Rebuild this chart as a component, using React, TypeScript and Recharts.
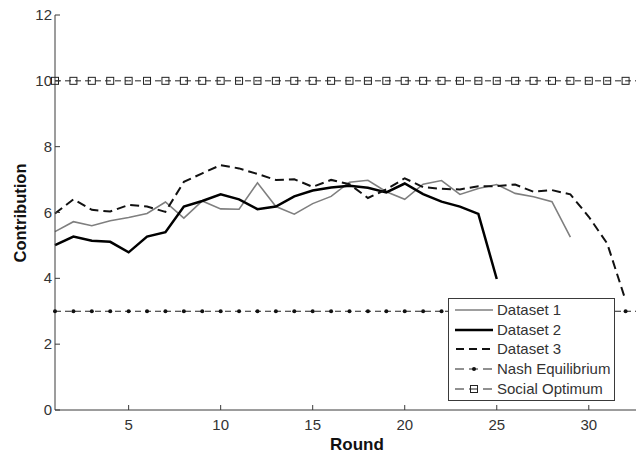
import { LineChart, Line, XAxis, YAxis, Legend } from 'recharts'

// rounds of the game (the axis runs a little past 32, the frame is cut at the window edge)
const rounds = [
  1, 2, 3, 4, 5, 6, 7, 8, 9, 10, 11, 12, 13, 14, 15, 16, 17, 18, 19, 20, 21, 22, 23, 24, 25,
  26, 27, 28, 29, 30, 31, 32, 33,
]

const dataset1 = [
  5.42, 5.72, 5.6, 5.75, 5.85, 5.97, 6.32, 5.83, 6.35, 6.11, 6.1, 6.9, 6.18, 5.95, 6.27, 6.49,
  6.92, 6.98, 6.63, 6.4, 6.86, 6.97, 6.55, 6.73, 6.85, 6.58, 6.48, 6.33, 5.25,
]

const dataset2 = [
  5.01, 5.27, 5.14, 5.11, 4.79, 5.27, 5.4, 6.18, 6.35, 6.55, 6.4, 6.1, 6.18, 6.49, 6.67, 6.76,
  6.81, 6.75, 6.61, 6.88, 6.56, 6.33, 6.18, 5.96, 3.98,
]

const dataset3 = [
  5.97, 6.4, 6.08, 6.03, 6.23, 6.18, 6.02, 6.93, 7.19, 7.44, 7.34, 7.17, 6.99, 7.01, 6.78, 6.99,
  6.86, 6.44, 6.7, 7.04, 6.77, 6.72, 6.7, 6.8, 6.8, 6.85, 6.63, 6.68, 6.55, 5.87, 5.06, 3.33,
]

const nashEquilibrium = 3
const socialOptimum = 10

const xTicks = [5, 10, 15, 20, 25, 30]
const yTicks = [0, 2, 4, 6, 8, 10, 12]

const legendItems = ['Dataset 1', 'Dataset 2', 'Dataset 3', 'Nash Equilibrium', 'Social Optimum']

const data = rounds.map((round, i) => ({
  round,
  d1: dataset1[i] ?? null,
  d2: dataset2[i] ?? null,
  d3: dataset3[i] ?? null,
  nash: nashEquilibrium,
  social: socialOptimum,
}))

const AXIS = '#3a3a3a'
const TEXT = '#333'
const GRAY = '#7f7f7f'
const FONT = '"Liberation Sans", Arial, sans-serif'

function BottomTick({ x, y, payload }: any) {
  return (
    <g>
      <line x1={x} y1={y} x2={x} y2={y - 5} stroke={AXIS} strokeWidth={1} />
      <text x={x} y={y + 20} textAnchor="middle" fontSize={15} fill={TEXT} fontFamily={FONT}>
        {payload.value}
      </text>
    </g>
  )
}

function TopTick({ x, y }: any) {
  return <line x1={x} y1={y} x2={x} y2={y + 5} stroke={AXIS} strokeWidth={1} />
}

function LeftTick({ x, y, payload }: any) {
  return (
    <g>
      <line x1={x} y1={y} x2={x + 5} y2={y} stroke={AXIS} strokeWidth={1} />
      <text x={x - 3} y={y + 5} textAnchor="end" fontSize={15} fill={TEXT} fontFamily={FONT}>
        {payload.value}
      </text>
    </g>
  )
}

function RoundLabel() {
  return (
    <text x={357} y={450} textAnchor="middle" fontSize={17} fontWeight="bold" fill="#111" fontFamily={FONT}>
      Round
    </text>
  )
}

function ContributionLabel() {
  return (
    <text
      x={26}
      y={213}
      transform="rotate(-90, 26, 213)"
      textAnchor="middle"
      fontSize={16.5}
      fontWeight="bold"
      fill="#111"
      fontFamily={FONT}
    >
      Contribution
    </text>
  )
}

function NashDot({ cx, cy, index }: any) {
  return <circle key={`n${index}`} cx={cx} cy={cy} r={2} fill="#111" />
}

function SquareDot({ cx, cy, index }: any) {
  return (
    <rect
      key={`s${index}`}
      x={cx - 3.5}
      y={cy - 3.5}
      width={7}
      height={7}
      fill="none"
      stroke="#222"
      strokeWidth={1}
    />
  )
}

function LegendBox() {
  const rows = [12, 32, 51, 71, 91]
  return (
    <svg width={168} height={104} style={{ display: 'block' }}>
      <rect x={0.5} y={0.5} width={166} height={102} fill="#fff" stroke={AXIS} strokeWidth={1} />
      {/* Dataset 1 */}
      <line x1={7} y1={rows[0]} x2={45} y2={rows[0]} stroke={GRAY} strokeWidth={1.5} />
      {/* Dataset 2 */}
      <line x1={7} y1={rows[1]} x2={45} y2={rows[1]} stroke="#000" strokeWidth={2.5} />
      {/* Dataset 3 */}
      <line x1={8} y1={rows[2]} x2={46} y2={rows[2]} stroke="#111" strokeWidth={2} strokeDasharray="8 5" />
      {/* Nash */}
      <line x1={7} y1={rows[3]} x2={46} y2={rows[3]} stroke="#222" strokeWidth={1} strokeDasharray="9 5" />
      <circle cx={26} cy={rows[3]} r={2} fill="#111" />
      {/* Social */}
      <line x1={7} y1={rows[4]} x2={46} y2={rows[4]} stroke="#222" strokeWidth={1} strokeDasharray="9 5" />
      <rect x={22.5} y={rows[4] - 3.5} width={7} height={7} fill="#fff" stroke="#222" />
      <line x1={22.5} y1={rows[4]} x2={29.5} y2={rows[4]} stroke="#222" strokeWidth={1} />
      {legendItems.map((label, i) => (
        <text key={label} x={49} y={rows[i] + 5} fontSize={15} fill={TEXT} fontFamily={FONT}>
          {label}
        </text>
      ))}
    </svg>
  )
}

export default function App() {
  return (
    <div
      style={{
        position: 'absolute',
        left: 0,
        top: 0,
        width: 636,
        height: 454,
        overflow: 'hidden',
        background: '#fff',
      }}
    >
      <LineChart width={660} height={454} data={data} margin={{ top: 15, right: 16, bottom: 0, left: 0 }}>
        <XAxis
          xAxisId="bottom"
          dataKey="round"
          type="number"
          domain={[1, 33]}
          ticks={xTicks}
          height={44}
          stroke={AXIS}
          tickLine={false}
          tickSize={0}
          tickMargin={0}
          tick={<BottomTick />}
          label={<RoundLabel />}
        />
        <XAxis
          xAxisId="top"
          orientation="top"
          dataKey="round"
          type="number"
          domain={[1, 33]}
          ticks={xTicks}
          height={0}
          stroke={AXIS}
          tickLine={false}
          tickSize={0}
          tickMargin={0}
          tick={<TopTick />}
        />
        <YAxis
          type="number"
          domain={[0, 12]}
          ticks={yTicks}
          width={55}
          stroke={AXIS}
          tickLine={false}
          tickSize={0}
          tickMargin={0}
          tick={<LeftTick />}
          label={<ContributionLabel />}
        />
        <Line
          xAxisId="bottom"
          dataKey="nash"
          stroke="#222"
          strokeWidth={1}
          strokeDasharray="6 4"
          dot={<NashDot />}
          isAnimationActive={false}
        />
        <Line
          xAxisId="bottom"
          dataKey="social"
          stroke="#222"
          strokeWidth={1}
          strokeDasharray="6 4"
          dot={<SquareDot />}
          isAnimationActive={false}
        />
        <Line
          xAxisId="bottom"
          dataKey="d1"
          stroke={GRAY}
          strokeWidth={1.6}
          dot={false}
          isAnimationActive={false}
        />
        <Line
          xAxisId="bottom"
          dataKey="d2"
          stroke="#000"
          strokeWidth={2.5}
          dot={false}
          isAnimationActive={false}
        />
        <Line
          xAxisId="bottom"
          dataKey="d3"
          stroke="#111"
          strokeWidth={2}
          strokeDasharray="9 5"
          dot={false}
          isAnimationActive={false}
        />
        <Legend
          layout="horizontal"
          verticalAlign="middle"
          align="center"
          content={<LegendBox />}
          wrapperStyle={{ left: 448, top: 298, width: 168, height: 104 }}
        />
      </LineChart>
    </div>
  )
}
